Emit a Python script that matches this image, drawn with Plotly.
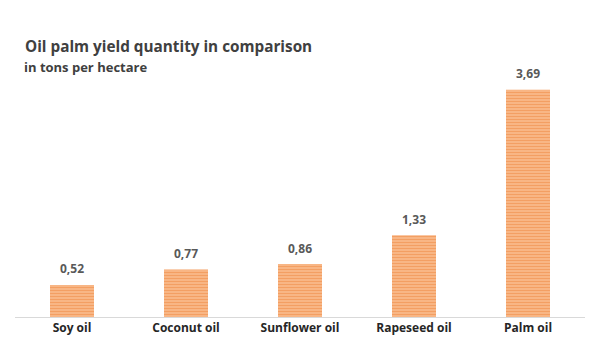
import plotly.graph_objects as go

categories = ["Soy oil", "Coconut oil", "Sunflower oil", "Rapeseed oil", "Palm oil"]
values = [0.52, 0.77, 0.86, 1.33, 3.69]
labels = [f"{v:.2f}".replace(".", ",") for v in values]

fig = go.Figure()
fig.add_trace(go.Bar(
    x=categories, y=values,
    marker=dict(
        color="#F4A064",
        line=dict(width=0),
        pattern=dict(shape="-", fgcolor="#EE8035", bgcolor="#F9BE90", size=3, solidity=0.5),
    ),
    width=0.386,
    hoverinfo="skip",
))

for c, v, t in zip(categories, values, labels):
    fig.add_annotation(x=c, y=v, text=f"<b>{t}</b>", showarrow=False, yshift=16,
                       font=dict(family="Open Sans", size=12, color="#595959"))

fig.add_annotation(xref="paper", yref="paper", x=0, y=1, xanchor="left", yanchor="middle",
                   text="<b>Oil palm yield quantity in comparison</b>", showarrow=False,
                   xshift=8, yshift=-6,
                   font=dict(family="Open Sans", size=15.3, color="#404040"))

fig.update_layout(
    width=600, height=354,
    margin=dict(l=15, r=15, t=40, b=37),
    paper_bgcolor="white", plot_bgcolor="white",
    showlegend=False,
    title=dict(text="<b>in tons per hectare</b>", x=0.04, xanchor="left", y=0.81, yanchor="middle",
               font=dict(family="Open Sans", size=13, color="#404040")),
    xaxis=dict(showline=True, linecolor="#D9D9D9", linewidth=1, ticks="",
               tickfont=dict(family="Open Sans", size=12, color="#262626"),
               showgrid=False, zeroline=False, range=[-0.5, 4.5]),
    yaxis=dict(visible=False, range=[0, 4.5], showgrid=False, zeroline=False),
)
fig.update_xaxes(tickprefix="<b>", ticksuffix="</b>")

fig.write_html("out.html")
